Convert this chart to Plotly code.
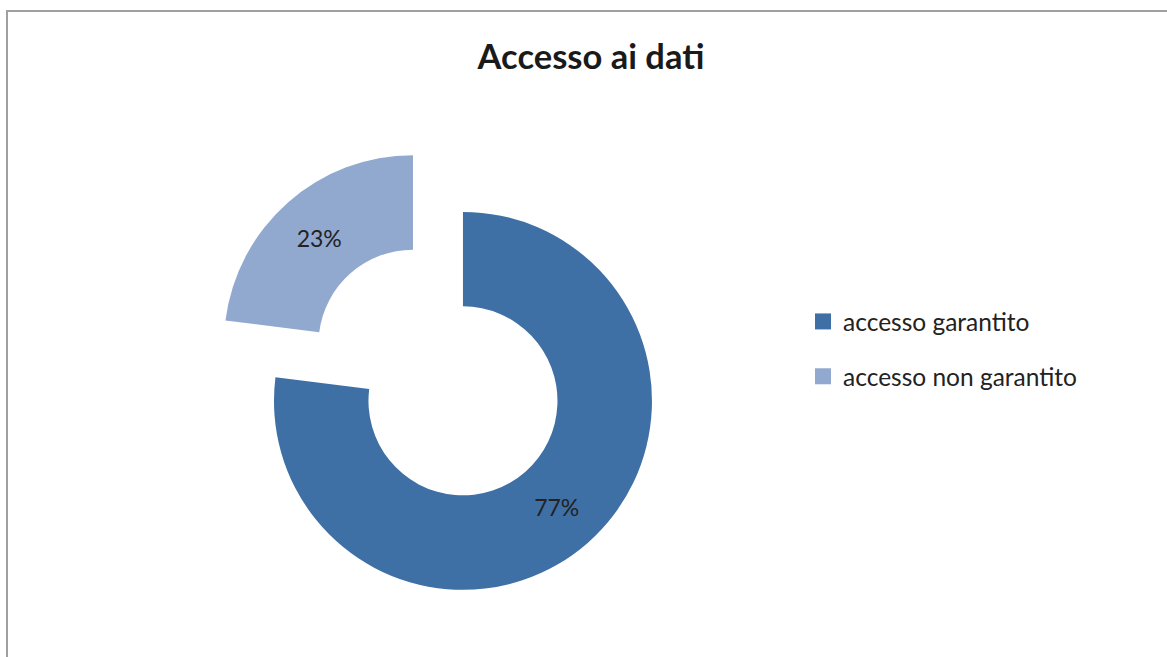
import plotly.graph_objects as go

# Data
categories = ["accesso garantito", "accesso non garantito"]
values = [77, 23]
colors = ["#3E70A6", "#91A8CF"]

W, H = 1167, 657
FONT = "Lato"

fig = go.Figure()

# Exploded donut
fig.add_trace(go.Pie(
    labels=categories,
    values=values,
    hole=0.5,
    pull=[0.2, 0.2],
    sort=False,
    direction="clockwise",
    rotation=0,
    marker=dict(colors=colors),
    textinfo="percent",
    textposition="inside",
    insidetextorientation="horizontal",
    textfont=dict(family=FONT, size=23, color="#222222"),
    domain=dict(x=[0.15, 0.6006], y=[0.0878, 0.7782]),
    showlegend=False,
    hoverinfo="label+percent",
))

# Legend entries (square swatches), one group per category for wider spacing
for i, (name, col) in enumerate(zip(categories, colors)):
    fig.add_trace(go.Scatter(
        x=[None], y=[None], mode="markers", name=name,
        marker=dict(symbol="square", size=16, color=col),
        legendgroup=f"g{i}", showlegend=True,
    ))

fig.update_layout(
    width=W, height=H,
    margin=dict(l=0, r=0, t=0, b=0),
    paper_bgcolor="white",
    plot_bgcolor="white",
    xaxis=dict(visible=False),
    yaxis=dict(visible=False),
    title=dict(
        text="<b>Accesso ai dati</b>",
        x=591 / W, xref="container", xanchor="center",
        y=1 - 57 / H, yref="container", yanchor="middle",
        font=dict(family=FONT, size=34.5, color="#1a1a1a"),
    ),
    legend=dict(
        x=803 / W, xanchor="left",
        y=1 - 299 / H, yanchor="top",
        traceorder="grouped",
        tracegroupgap=20,
        font=dict(family=FONT, size=24.5, color="#222222"),
        bgcolor="rgba(0,0,0,0)",
    ),
    shapes=[dict(
        type="rect", xref="paper", yref="paper",
        x0=7 / W, x1=1.05, y0=-0.05, y1=1 - 11 / H,
        line=dict(color="#A0A0A0", width=2),
        fillcolor="rgba(0,0,0,0)", layer="above",
    )],
)

fig.write_html("out.html")
